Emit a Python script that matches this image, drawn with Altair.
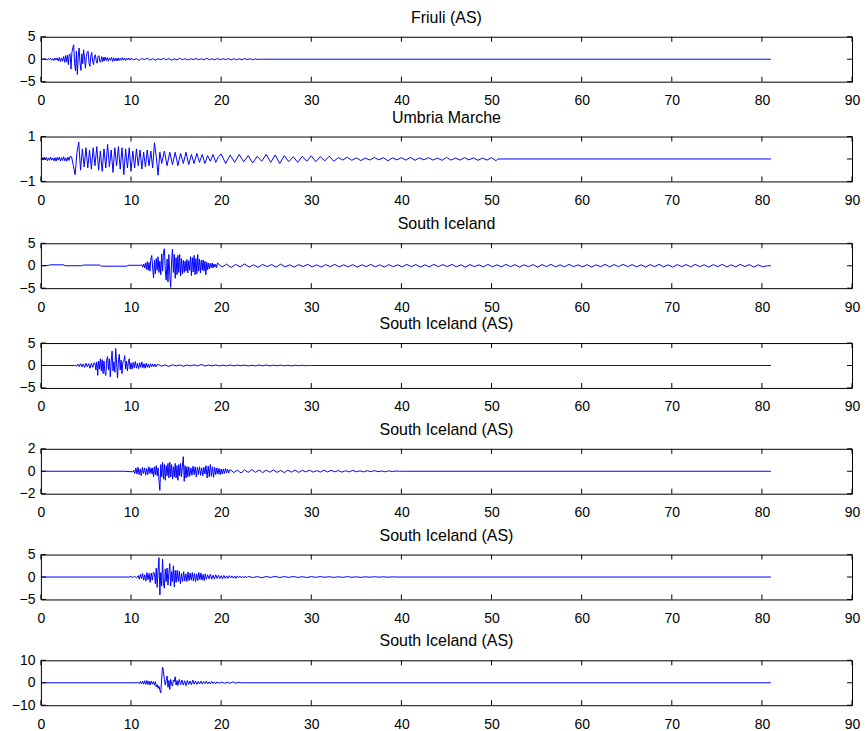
import altair as alt
import pandas as pd

# ---------------------------------------------------------------------------
# Acceleration records (time in s).  Each record is a list of segments:
# (start time, sample step, sample values).  Outside the segments the trace
# sits at zero until the end of the record.
# ---------------------------------------------------------------------------
RECORD_END = 81.0
X_TICKS = [0, 10, 20, 30, 40, 50, 60, 70, 80, 90]

TITLES = [
    "Friuli (AS)",
    "Umbria Marche",
    "South Iceland",
    "South Iceland (AS)",
    "South Iceland (AS)",
    "South Iceland (AS)",
    "South Iceland (AS)",
]
Y_DOMAINS = [[-5, 5], [-1, 1], [-5, 5], [-5, 5], [-2, 2], [-5, 5], [-10, 10]]
Y_TICKS = [[-5, 0, 5], [-1, 0, 1], [-5, 0, 5], [-5, 0, 5], [-2, 0, 2], [-5, 0, 5], [-10, 0, 10]]
# extra blank space kept under a panel before the next one (px)
GAP_BELOW = [0, 6.5, 0, 5.5, 6, 6, 0]

# --- Friuli (AS) -----------------------------------------------------------
friuli_pre = [0.0, 0.12, -0.1, 0.18, -0.15, 0.1, -0.2, 0.15, -0.08, 0.2, -0.22,
              0.12, -0.3, 0.25, -0.18, 0.3, -0.4, 0.35, -0.5, 0.3, -0.45, 0.6]
friuli_onset = [-0.7, 0.8, -0.6, 0.9, -1.2, 1.0]
friuli_main = [1.2, -2.2, 1.5, 2.6, 3.2, -1.0, -2.6, 1.8, -3.4, 0.5, 2.5, -0.8,
               -2.5, 1.2, -1.0, 2.1, 0.3, -2.0, 0.6, 1.6, 1.8, -0.9, -1.6, 0.7,
               1.5, -0.4, -1.2, 0.5, 1.0, -0.3, -0.9, 0.6, 0.8, -0.5, -0.7, 0.6,
               -0.5, 0.4]
friuli_coda = [-0.4, 0.5, -0.3, 0.35, -0.45, 0.3, -0.25, 0.4, -0.5, 0.3, -0.35,
               0.25, -0.4, 0.3, -0.3, 0.2, -0.25, 0.35, -0.2, 0.25, -0.3, 0.2,
               -0.15, 0.25, -0.2]
friuli_tail = [0.2, -0.15, 0.1, -0.25, 0.15, -0.1, 0.22, -0.18, 0.12, -0.2, 0.1,
               -0.12, 0.18, -0.1, 0.15, -0.2, 0.08, -0.15, 0.2, -0.1, 0.12, -0.18,
               0.1, -0.08, 0.15, -0.12, 0.1, -0.15, 0.2, -0.1, 0.08, -0.12, 0.15,
               -0.1, 0.1, -0.08, 0.12, -0.15, 0.1, -0.1, 0.08, -0.12, 0.15, -0.08,
               0.1, -0.1, 0.08, -0.06, 0.0]

# --- Umbria Marche ---------------------------------------------------------
umbria_pre = [0.0, 0.06, -0.05, 0.08, -0.04, 0.07, -0.08, 0.05, -0.06, 0.09, -0.05,
              0.04, -0.08, 0.06, -0.1, 0.07, -0.05, 0.08, -0.09, 0.06, -0.07, 0.1,
              -0.08, 0.05, -0.1, 0.08, -0.06, 0.12]
umbria_main = [0.1, -0.3, -0.7, 0.3, 0.75, -0.5, 0.45, -0.35, 0.5, -0.4, 0.4, -0.45,
               0.5, -0.3, 0.55, -0.5, 0.35, -0.55, 0.45, -0.4, 0.65, -0.35, 0.4,
               -0.6, 0.5, -0.3, 0.55, -0.45, 0.5, -0.7, 0.45, -0.4, 0.5, -0.55, 0.35,
               -0.4, 0.45, -0.3, 0.4, -0.45, 0.3, -0.35, 0.4, -0.3, 0.35, -0.4, 0.72,
               0.1, -0.72, 0.3]
umbria_mid = [-0.2, 0.35, -0.3, 0.3, -0.25, 0.3, -0.3, 0.25, -0.2, 0.3, -0.25, 0.2,
              -0.2, 0.25, -0.15, 0.2, -0.2, 0.15, -0.1, 0.2, -0.15, 0.1]
umbria_late = [0.22, -0.2, 0.18, -0.15, 0.2, -0.12, 0.15, -0.18, 0.12, -0.1, 0.2,
               -0.15, 0.18, -0.2, 0.15, -0.12, 0.1, -0.15, 0.12, -0.1, 0.14, -0.12,
               0.1, -0.08, 0.12, -0.1]
umbria_tail = [0.06, -0.05, 0.08, -0.06, 0.05, -0.07, 0.04, -0.05, 0.07, -0.04, 0.06,
               -0.08, 0.05, -0.04, 0.06, -0.05, 0.07, -0.06, 0.05, -0.04, 0.06, -0.05,
               0.04, -0.06, 0.07, -0.05, 0.04, -0.05, 0.06, -0.04, 0.05, -0.06, 0.04,
               -0.05, 0.06, -0.08]

# --- South Iceland ---------------------------------------------------------
siceland_quiet_t = [0.0, 0.8, 1.0, 2.5, 2.7, 4.5, 4.7, 6.5, 6.7, 9.5, 9.7, 11.1]
siceland_quiet_v = [0.0, 0.05, 0.2, 0.2, 0.0, 0.0, 0.15, 0.15, -0.1, -0.1, 0.1, 0.1]
siceland_main = [0.2, -0.3, 0.4, -0.5, 0.6, -0.8, 0.9, -1.0, 0.7, -1.2,
                 1.5, 2.3, -0.5, -2.7, 1.2, -1.8, 1.6, -1.0, 2.0, -1.5,
                 1.0, -2.0, 2.6, -1.2, 3.0, 3.8, -1.0, -3.2, 1.5, -3.6,
                 2.5, -2.0, -4.8, 1.0, 3.7, -1.5, 2.5, -2.8, 1.8, -2.0,
                 2.3, -1.5, 2.5, -2.3, 1.6, -1.8, 1.2, -1.5, 1.0, -1.2,
                 1.4, -1.6, 1.1, -1.0, 2.0, -2.2, 1.8, -1.4, 2.3, -2.0,
                 1.6, -1.8, 2.5, -1.2, 1.5, -1.6, 1.2, -1.0, 1.3, -1.2,
                 1.0, -2.0, 0.8, -0.9, 0.6, -0.7, 0.5, -0.4, 0.6, -0.5,
                 0.4, -0.3, 0.3, -0.4]
siceland_tail = [0.6, -0.3, 0.35, -0.4, 0.3, -0.25, 0.4, -0.3, 0.2, -0.35,
                 0.3, -0.2, 0.25, -0.3, 0.35, -0.25, 0.2, -0.3, 0.25, -0.2,
                 0.3, -0.25, 0.2, -0.3, 0.25, -0.2, 0.3, -0.25, 0.2, -0.25,
                 0.25, -0.3, 0.2, -0.2, 0.3, -0.25, 0.2, -0.3, 0.25, -0.2,
                 0.2, -0.25, 0.3, -0.2, 0.25, -0.3, 0.2, -0.25, 0.3, -0.2,
                 0.25, -0.2, 0.3, -0.25, 0.2, -0.3, 0.25, -0.2, 0.2, -0.25,
                 0.3, -0.25, 0.2, -0.25, 0.3, -0.2, 0.25, -0.3, 0.2, -0.2,
                 0.25, -0.3, 0.25, -0.2, 0.3, -0.25, 0.2, -0.25, 0.3, -0.2,
                 0.2, -0.25, 0.25, -0.3, 0.2, -0.2, 0.3, -0.25, 0.25, -0.2,
                 0.3, -0.2, 0.25, -0.25, 0.2, -0.3, 0.25, -0.2, 0.3, -0.25,
                 0.2, -0.3, 0.25, -0.2, 0.25, -0.25, 0.3, -0.2, 0.2, -0.3,
                 0.25, -0.2, 0.3, -0.25, 0.2, -0.25, 0.3, -0.2, 0.25, -0.3,
                 0.2, -0.25, 0.0]

# --- South Iceland (AS), record 1 ------------------------------------------
as1_onset = [0.1, -0.2, 0.3, -0.25, 0.4, -0.3, 0.35, -0.45, 0.5, -0.3, 0.4, -0.6,
             0.5, -0.4, 0.6]
as1_main = [0.5, -1.0, 0.8, -2.2, 1.0, -0.8, 1.5, -1.2, 1.3, -1.8,
            1.0, -1.5, -2.2, 1.2, 2.0, -1.0, 1.5, -2.5, 1.0, 3.2,
            -1.2, 0.8, -1.5, 3.8, 0.5, -2.8, 1.0, 2.5, -1.0, 1.2,
            -1.8, 0.8, 1.0, 2.2, -0.8, 1.0, -1.2, 0.6, 1.5, -0.8]
as1_coda = [0.6, -0.8, 0.7, -0.5, 0.9, -0.6, 0.5, -0.7, 0.6, -0.4, 0.8, -0.5, 0.4,
            -0.6, 0.5, -0.4, 0.3, -0.5, 0.4, -0.3, 0.35, -0.25, 0.3, -0.3, 0.2]
as1_tail = [0.2, -0.15, 0.1, -0.2, 0.15, -0.1, 0.12, -0.15, 0.1, -0.08, 0.15, -0.1,
            0.25, -0.12, 0.1, -0.08, 0.12, -0.1, 0.08, -0.1, 0.12, -0.08, 0.1, -0.06,
            0.08, -0.1, 0.06, -0.08, 0.1, -0.06, 0.12, -0.08, 0.06, -0.05, 0.08,
            -0.06, 0.05, -0.08, 0.06, -0.05, 0.04, -0.05, 0.0]

# --- South Iceland (AS), record 2 ------------------------------------------
as2_drift_t = [0.0, 9.2, 10.2]
as2_drift_v = [0.0, 0.0, -0.05]
as2_onset = [0.1, -0.2, 0.3, -0.25, 0.35, -0.3, 0.2, -0.4, 0.35, -0.2, 0.3, -0.35,
             0.25, -0.3, 0.4, -0.2, 0.3, -0.25]
as2_main = [0.3, -0.5, 0.4, -0.3, 0.5, -0.4, 0.3, -0.8, -1.7, 0.6,
            -0.5, 0.8, -0.7, 0.6, -0.8, 0.5, -0.4, 0.7, -0.6, 0.8,
            -0.5, 0.6, -0.7, 0.4, -0.5, 0.7, -0.6, 0.5, -0.8, 0.6,
            -0.4, 0.7, -0.5, 0.4, 1.3, -0.9, 0.5, -0.6, 0.4, -0.5]
as2_coda = [0.4, -0.45, 0.3, -0.35, 0.45, -0.3, 0.4, -0.5, 0.35, -0.3, 0.4, -0.35,
            0.3, -0.4, 0.35, -0.25, 0.5, -0.6, 0.45, -0.5, 0.6, -0.45, 0.4, -0.55,
            0.35, -0.3, 0.3, -0.25, 0.25, -0.3, 0.2, -0.25, 0.2, -0.2, 0.25, -0.15,
            0.2, -0.15, 0.1]
as2_tail = [0.15, -0.12, 0.1, -0.15, 0.12, -0.1, 0.15, -0.1, 0.12, -0.12, 0.1, -0.08,
            0.12, -0.1, 0.08, -0.12, 0.1, -0.08, 0.1, -0.1, 0.08, -0.06, 0.1, -0.08,
            0.06, -0.08, 0.1, -0.06, 0.08, -0.05, 0.06, -0.08, 0.05, -0.06, 0.08,
            -0.05, 0.04, -0.06, 0.05, -0.04, 0.06, -0.04, 0.03, -0.05, 0.04, -0.03,
            0.02, 0.0]

# --- South Iceland (AS), record 3 ------------------------------------------
as3_pre = [0.0, 0.1, -0.1, 0.15, -0.2]
as3_onset = [0.3, -0.5, 0.6, -0.4, 0.8, -0.7, 0.5, -0.9, 1.0, -0.6, 0.8, -1.2, 0.9,
             -0.7, 1.1]
as3_main = [0.8, -1.5, 2.0, -2.3, 1.5, 4.3, -4.0, 1.0, -2.0, 4.0, -1.5, -2.5,
            1.8, -1.0, 2.0, -1.8, 1.0, 3.0, -2.0, 1.2, -1.0, 2.5, -2.2, 1.5]
as3_coda = [-1.2, 1.5, -1.0, 1.3, -1.5, 0.8, -1.0, 1.2, -0.9, 0.7, -1.0, 1.1, -0.8,
            0.9, -0.7, 1.0, -0.9, 0.8, -1.0, 0.7, -0.8, 1.0, -0.6, 0.9, -0.7, 0.6,
            -0.8, 0.7, -0.5]
as3_late = [0.5, -0.4, 0.6, -0.5, 0.4, -0.45, 0.5, -0.3, 0.4, -0.35, 0.3, -0.4, 0.35,
            -0.3, 0.25, -0.3, 0.3, -0.2, 0.25, -0.25, 0.2, -0.3, 0.25, -0.15, 0.2,
            -0.2, 0.15, -0.2, 0.2, -0.15]
as3_tail = [0.15, -0.12, 0.1, -0.15, 0.12, -0.1, 0.15, -0.12, 0.1, -0.08, 0.12, -0.1,
            0.08, -0.12, 0.1, -0.08, 0.1, -0.06, 0.08, -0.1, 0.06, -0.08, 0.1, -0.06,
            0.05, -0.08, 0.06, -0.05, 0.06, -0.04, 0.05, -0.04, 0.03, 0.0]

# --- South Iceland (AS), record 4 ------------------------------------------
as4_onset = [0.2, -0.4, 0.6, -0.5, 0.8, -0.6, 0.9, -0.7, 1.0, -0.8, 0.7, -1.0, 0.8,
             -0.6, 0.5]
as4_main = [-1.0, 0.5, -1.8, -0.8, -2.5, -1.5, -3.2, -4.5, 2.0, 7.0, 5.0, 1.5, -1.0,
            1.0, 3.0, -2.0, 1.0, -3.0, 1.5, -0.5, -1.5, 1.2, 0.5, 2.7, -1.0, 1.0]
as4_coda = [-1.2, 1.5, -0.8, 1.2, -1.0, 0.9, -1.3, 1.0, -0.7, 0.8, -0.9, 1.2, -0.6,
            0.8, -0.7, 0.6, -0.5, 0.7, -0.6, 0.5, -0.4, 0.8, -0.5, 0.4, -0.5, 0.6,
            -0.4, 0.3, -0.4]
as4_tail = [0.3, -0.2, 0.3, -0.25, 0.2, -0.2, 0.4, -0.2, 0.2, 0.0]

RECORDS = [
    {"points": [], "segments": [(0.0, 0.12, friuli_pre), (2.64, 0.1, friuli_onset),
                                (3.24, 0.1, friuli_main), (7.0, 0.12, friuli_coda),
                                (10.0, 0.3, friuli_tail)]},
    {"points": [], "segments": [(0.0, 0.12, umbria_pre), (3.4, 0.2, umbria_main),
                                (13.4, 0.3, umbria_mid), (20.0, 0.5, umbria_late),
                                (33.0, 0.5, umbria_tail)]},
    {"points": list(zip(siceland_quiet_t, siceland_quiet_v)),
     "segments": [(11.2, 0.1, siceland_main), (19.6, 0.5, siceland_tail)]},
    {"points": [(0.0, 0.0), (3.7, 0.0)],
     "segments": [(3.8, 0.15, as1_onset), (6.0, 0.1, as1_main),
                  (10.0, 0.12, as1_coda), (13.0, 0.4, as1_tail)]},
    {"points": list(zip(as2_drift_t, as2_drift_v)),
     "segments": [(10.3, 0.12, as2_onset), (12.4, 0.1, as2_main),
                  (16.4, 0.12, as2_coda), (21.0, 0.4, as2_tail)]},
    {"points": [(0.0, 0.0), (9.6, 0.0)],
     "segments": [(9.8, 0.2, as3_pre), (10.8, 0.12, as3_onset), (12.6, 0.1, as3_main),
                  (15.0, 0.12, as3_coda), (18.5, 0.15, as3_late), (23.0, 0.5, as3_tail)]},
    {"points": [(0.0, 0.0), (10.7, 0.0)],
     "segments": [(10.8, 0.12, as4_onset), (12.6, 0.1, as4_main),
                  (15.2, 0.15, as4_coda), (19.5, 0.3, as4_tail)]},
]

W, H = 813, 45
TICK_LEN = 5
LABEL_PAD = 12
LABEL_SIZE = 14
FONT = "Liberation Sans"
BLUE = "#0000ff"


def trace_frame(record):
    rows = list(record["points"])
    for start, step, values in record["segments"]:
        rows += [(start + i * step, v) for i, v in enumerate(values)]
    last_t = rows[-1][0]
    rows.append((last_t + 0.2, 0.0))
    rows.append((RECORD_END, 0.0))
    return pd.DataFrame(rows, columns=["t", "a"])


def panel(idx):
    ydom, yticks = Y_DOMAINS[idx], Y_TICKS[idx]
    xscale = alt.Scale(domain=[0, 90], nice=False, zero=False)
    yscale = alt.Scale(domain=ydom, nice=False, zero=False)
    xaxis = alt.Axis(values=X_TICKS, format="d", title=None, labelPadding=LABEL_PAD,
                     labelFlush=False, labelOverlap=False)
    yaxis = alt.Axis(values=yticks, format="d", title=None, labelPadding=6,
                     labelFlush=False, labelOverlap=False)

    trace = alt.Chart(trace_frame(RECORDS[idx])).mark_line(
        color=BLUE, strokeWidth=1, clip=True
    ).encode(
        x=alt.X("t:Q", scale=xscale, axis=xaxis),
        y=alt.Y("a:Q", scale=yscale, axis=yaxis),
        order="t:Q",
    )

    # inward-pointing tick marks on all four sides of the box
    xt = pd.DataFrame({"t": X_TICKS})
    yt = pd.DataFrame({"a": yticks})
    tick = dict(color="black", strokeWidth=1)
    xb = alt.Chart(xt).mark_rule(**tick).encode(
        x=alt.X("t:Q", scale=xscale, axis=xaxis), y=alt.value(H), y2=alt.value(H - TICK_LEN))
    xtop = alt.Chart(xt).mark_rule(**tick).encode(
        x=alt.X("t:Q", scale=xscale, axis=xaxis), y=alt.value(0), y2=alt.value(TICK_LEN))
    yl = alt.Chart(yt).mark_rule(**tick).encode(
        y=alt.Y("a:Q", scale=yscale, axis=yaxis), x=alt.value(0), x2=alt.value(TICK_LEN))
    yr = alt.Chart(yt).mark_rule(**tick).encode(
        y=alt.Y("a:Q", scale=yscale, axis=yaxis), x=alt.value(W - TICK_LEN), x2=alt.value(W))
    layers = [trace, xb, xtop, yl, yr]

    gap = GAP_BELOW[idx]
    if gap:
        # blank white spacer below the tick labels that widens the gap to the next panel
        bottom = H + LABEL_PAD + LABEL_SIZE + gap
        spacer = alt.Chart(yt.head(1)).mark_rule(color="white", strokeWidth=1).encode(
            x=alt.value(-30), x2=alt.value(-29), y=alt.value(bottom - 1), y2=alt.value(bottom))
        layers.append(spacer)

    return alt.layer(*layers).properties(
        width=W, height=H,
        title=alt.TitleParams(TITLES[idx], font=FONT, fontSize=16, fontWeight="normal",
                              color="black", anchor="middle", offset=4),
    )


chart = alt.vconcat(*[panel(i) for i in range(7)], spacing=0, bounds="full").properties(
    padding={"left": 10, "top": 8, "right": 5, "bottom": 2},
    background="white",
).configure_view(
    stroke="black", strokeWidth=1
).configure_axis(
    domain=False, ticks=False, grid=False,
    labelFont=FONT, labelFontSize=LABEL_SIZE, labelColor="black",
)

chart.save("out.html", embed_options={"renderer": "svg", "actions": False})
